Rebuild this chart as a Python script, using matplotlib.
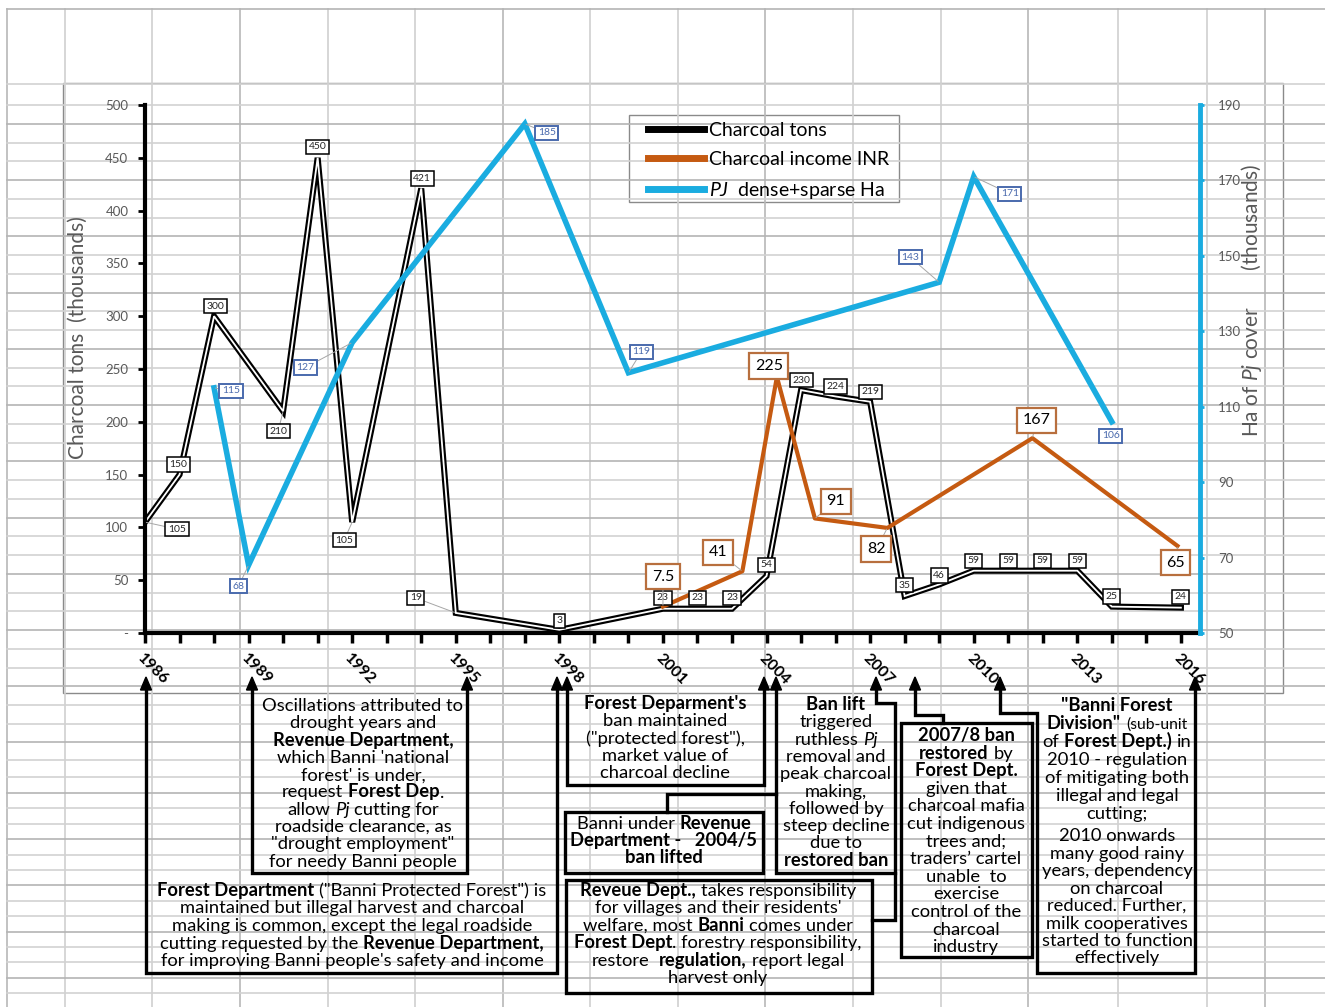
import re
import matplotlib
matplotlib.use("Agg")
import matplotlib.pyplot as plt
from matplotlib.lines import Line2D
from matplotlib.patches import Rectangle, Polygon

plt.rcParams['font.family'] = ['Lato', 'DejaVu Sans']
plt.rcParams['mathtext.fontset'] = 'custom'
plt.rcParams['mathtext.rm'] = 'Lato'
plt.rcParams['mathtext.it'] = 'Lato:italic'
plt.rcParams['mathtext.bf'] = 'Lato:bold'

W, H = 1325, 1007

# charcoal production (thousand tons)
charcoal_years = [1986, 1987, 1988, 1990, 1991, 1992, 1994, 1995, 1998, 2001, 2002, 2003,
                  2004, 2005, 2006, 2007, 2008, 2009, 2010, 2011, 2012, 2013, 2014, 2016]
charcoal_tons = [105, 150, 300, 210, 450, 105, 421, 19, 3, 23, 23, 23,
                 54, 230, 224, 219, 35, 46, 59, 59, 59, 59, 25, 24]

# charcoal income (INR), plotted on its own hidden scale
income_years = [2001, 2003.3, 2004.3, 2005.4, 2007.5, 2011.7, 2015.9]
income_inr = [7.5, 41, 225, 91, 82, 167, 65]

# Prosopis juliflora cover (thousand ha)
pj_years = [1988, 1989, 1992, 1997, 2000, 2009, 2010, 2014]
pj_ha = [115, 68, 127, 185, 119, 143, 171, 106]

year_ticks = list(range(1986, 2017))
year_labels = [str(y) if (y - 1986) % 3 == 0 else '' for y in year_ticks]

# data label offsets (pixels)
charcoal_off = [(32, -7), (-1, 10), (1, 10), (-5, -20), (0, 11), (-8, -18), (1, 10), (-40, 15),
                (0, 9), (0, 11), (0, 11), (0, 11), (0, 11), (0, 10), (0, 10), (0, 10), (0, 11),
                (0, 9), (0, 10), (0, 10), (0, 10), (0, 10), (0, 10), (0, 11)]
income_off = [(0, 30), (-24, 19), (-8, 11), (21, 17), (-11, -21), (4, 18), (-2, -17)]
pj_off = [(17, -3), (-10, -21), (-47, -25), (22, -9), (13, 21), (-29, 25), (36, -17), (-1, -14)]

BLUE = '#1AACE0'
ORANGE = '#C55A11'
GREY = '#595959'

fig = plt.figure(figsize=(W / 100, H / 100), dpi=100)
fig.patch.set_facecolor('white')

# spreadsheet background
bg = fig.add_axes([0, 0, 1, 1], zorder=-10)
bg.set_xlim(0, W)
bg.set_ylim(H, 0)
bg.axis('off')
cols = [7, 65, 152, 240, 328, 415, 503, 590, 678, 765, 853, 941, 1028, 1118, 1207, 1265]
rows = [9, 84] + [105 + 18.75 * k for k in range(34)] + [742, 760, 777] + [793 + 15.4 * k for k in range(15)]
for i, x in enumerate(cols):
    bg.plot([x, x], [9, H], color='#cfcfcf' if i % 3 else '#b8b8b8', lw=1.2)
for i, y in enumerate(rows):
    bg.plot([7, W], [y, y], color='#d2d2d2' if i % 3 else '#b4b4b4', lw=1.2)
bg.add_patch(Rectangle((63, 83), 1220, 610, fill=False, ec='#8a8a8a', lw=1))
bg.add_patch(Rectangle((629, 115), 270, 87, fill=False, ec='#8a8a8a', lw=1))

# main axes
ax = fig.add_axes([145 / W, (H - 633) / H, 1055 / W, 528 / H])
ax.patch.set_visible(False)
ax.set_xlim(1986, 1986 + 1055 / 34.53)
ax.set_ylim(0, 500)
ax.plot(charcoal_years, charcoal_tons, color='black', lw=4.4, solid_joinstyle='miter')
ax.plot(charcoal_years, charcoal_tons, color='white', lw=1.3, solid_joinstyle='miter')
for s in ['top', 'right']:
    ax.spines[s].set_visible(False)
for s in ['left', 'bottom']:
    ax.spines[s].set_linewidth(3)
ax.set_xticks(year_ticks)
ax.set_xticklabels(year_labels, rotation=-45, ha='left', va='top', rotation_mode='anchor',
                   fontweight='bold', fontsize=11.5)
ax.tick_params(axis='x', length=7, width=2.5, pad=6)
yt = list(range(0, 501, 50))
ax.set_yticks(yt)
ax.set_yticklabels(['-'] + [str(v) for v in yt[1:]], color=GREY, fontsize=9.5)
ax.tick_params(axis='y', length=5, width=2, pad=7)

ax2 = ax.twinx()
ax2.set_ylim(50, 190)
ax2.plot(pj_years, pj_ha, color=BLUE, lw=4, solid_joinstyle='miter')
for s in ['top', 'left', 'bottom']:
    ax2.spines[s].set_visible(False)
ax2.spines['right'].set_color(BLUE)
ax2.spines['right'].set_linewidth(3.5)
ax2.set_yticks(list(range(50, 191, 20)))
ax2.tick_params(axis='y', colors=BLUE, labelcolor=GREY, labelsize=9.5, length=3, width=2, pad=10)

ax3 = ax.twinx()
ax3.set_ylim(-17.5, 482.5)
ax3.plot(income_years, income_inr, color=ORANGE, lw=3)
ax3.axis('off')


def label(src, txt, x, y, off, **style):
    dist = (off[0] ** 2 + off[1] ** 2) ** 0.5
    ap = dict(arrowstyle='-', color='#a6a6a6', lw=0.7, shrinkA=0, shrinkB=1) if dist > 16 else None
    ax3.annotate(txt, xy=(x, y), xycoords=src.transData, xytext=off, textcoords='offset pixels',
                 ha='center', va='center', arrowprops=ap, annotation_clip=False, **style)


for x, v, o in zip(charcoal_years, charcoal_tons, charcoal_off):
    label(ax, str(v), x, v, o, fontsize=7.5, color='#262626',
          bbox=dict(boxstyle='square,pad=0.25', fc='white', ec='black', lw=1.1))
for x, v, o in zip(pj_years, pj_ha, pj_off):
    label(ax2, str(v), x, v, o, fontsize=7.5, color='#4a6aad',
          bbox=dict(boxstyle='square,pad=0.25', fc='white', ec='#4a6aad', lw=1.4))
for x, v, o in zip(income_years, income_inr, income_off):
    label(ax3, f"{v:g}", x, v, o, fontsize=11.5, color='black',
          bbox=dict(boxstyle='square,pad=0.35', fc='white', ec='#b86f3e', lw=1.6))

handles = [Line2D([], [], color='black', lw=5), Line2D([], [], color=ORANGE, lw=5),
           Line2D([], [], color=BLUE, lw=5)]
leg = fig.legend(handles, ['Charcoal tons', 'Charcoal income INR', r'$\mathit{PJ}$  dense+sparse Ha'],
                 loc='upper left', bbox_to_anchor=(644 / W, 1 - 118 / H), fontsize=14,
                 handlelength=2.9, handletextpad=0.25, labelspacing=0.62, borderpad=0.2,
                 frameon=False, borderaxespad=0)

fig.text(78 / W, 1 - 338 / H, 'Charcoal tons  (thousands)', rotation=90, ha='center', va='center',
         fontsize=15, color=GREY)
fig.text(1252 / W, 1 - 300 / H, 'Ha of $\\mathit{Pj}$ cover       (thousands)', rotation=90,
         ha='center', va='center', fontsize=15, color=GREY)

# annotation overlay in pixel coordinates
ov = fig.add_axes([0, 0, 1, 1], zorder=5)
ov.set_xlim(0, W)
ov.set_ylim(H, 0)
ov.axis('off')

paths = [
    [(146, 688), (146, 973), (557, 973), (557, 688)],
    [(252, 688), (252, 873), (467, 873), (467, 688)],
    [(567, 688), (567, 785), (764, 785), (764, 688)],
    [(667, 812), (667, 794), (776, 794)],
    [(776, 688), (776, 873), (895, 873)],
    [(876, 688), (876, 703), (895, 703), (895, 920), (872, 920)],
    [(943, 723), (943, 715), (915, 715), (915, 688)],
    [(1000, 688), (1000, 713), (1037, 713), (1037, 973), (1195, 973), (1195, 688)],
]
for p in paths:
    ov.plot([q[0] for q in p], [q[1] for q in p], color='black', lw=2.4,
            solid_joinstyle='miter', solid_capstyle='projecting')
for x in [146, 557, 252, 467, 567, 764, 776, 876, 915, 1000, 1195]:
    ov.add_patch(Polygon([[x - 5.5, 690], [x + 5.5, 690], [x, 677]], closed=True, color='black'))
for x0, y0, x1, y1 in [(565, 812, 763, 873), (566, 880, 872, 993), (901, 723, 1032, 957)]:
    ov.add_patch(Rectangle((x0, y0), x1 - x0, y1 - y0, fill=False, ec='black', lw=2.4))

renderer = fig.canvas.get_renderer()
FS = 13.2
STY = {'n': dict(fontsize=FS), 'b': dict(fontsize=FS, fontweight='bold'),
       'i': dict(fontsize=FS, fontstyle='italic'), 's': dict(fontsize=FS * 0.85)}


def measure(s, st):
    t = ov.text(0, 0, s, **STY[st])
    w = t.get_window_extent(renderer=renderer).width
    t.remove()
    return w


SPACE = {k: measure('a a', k) - measure('aa', k) for k in STY}


def parse(line):
    segs = []
    for part in re.split(r'(\*\*.*?\*\*|__.*?__|\^\^.*?\^\^)', line):
        if not part:
            continue
        if part.startswith('**'):
            segs.append((part[2:-2], 'b'))
        elif part.startswith('__'):
            segs.append((part[2:-2], 'i'))
        elif part.startswith('^^'):
            segs.append((part[2:-2], 's'))
        else:
            segs.append((part, 'n'))
    return segs


def rich(cx, cy, line):
    parts = []
    total = 0
    for s, st in parse(line):
        core = s.strip(' ')
        lead = len(s) - len(s.lstrip(' '))
        trail = len(s) - len(s.rstrip(' ')) if core else 0
        w = measure(core, st) if core else 0
        parts.append((core, st, lead * SPACE[st], w, trail * SPACE[st]))
        total += lead * SPACE[st] + w + trail * SPACE[st]
    x = cx - total / 2
    for core, st, lw_, w, tw in parts:
        x += lw_
        if core:
            ov.text(x, cy + 6, core, ha='left', va='baseline', **STY[st])
        x += w + tw


def block(cx, ys, lines):
    for y, line in zip(ys, lines):
        rich(cx, y, line)


def even(y0, dy, n):
    return [y0 + dy * i for i in range(n)]


block(352, even(890, 17.5, 5), [
    '**Forest Department** ("Banni Protected Forest") is',
    'maintained but illegal harvest and charcoal',
    'making is common, except the legal roadside',
    'cutting requested by the **Revenue Department,**',
    "for improving Banni people's safety and income"])
block(363, even(705, 17.3, 10), [
    'Oscillations attributed to', 'drought years and', '**Revenue Department,**',
    "which Banni 'national", "forest' is under,", 'request **Forest Dep**.',
    'allow __Pj__ cutting for', 'roadside clearance, as', '"drought employment"',
    'for needy Banni people'])
block(665, even(703, 17.3, 5), [
    "**Forest Deparment's**", 'ban maintained', '("protected forest"),',
    'market value of', 'charcoal decline'])
block(664, even(823, 17, 3), [
    'Banni under **Revenue**', '**Department -   2004/5**', '**ban lifted**'])
block(836, even(704, 17.3, 10), [
    '**Ban lift**', 'triggered', 'ruthless __Pj__', 'removal and', 'peak charcoal',
    'making,', 'followed by', 'steep decline', 'due to', '**restored ban**'])
block(718, even(890, 17.4, 6), [
    '**Reveue Dept.,** takes responsibility', "for villages and their residents'",
    'welfare, most **Banni** comes under', '**Forest Dept**. forestry responsibility,',
    'restore  **regulation,** report legal', 'harvest only'])
block(966, even(735, 17.6, 13), [
    '**2007/8 ban**', '**restored** by', '**Forest Dept.**', 'given that', 'charcoal mafia',
    'cut indigenous', 'trees and;', 'traders\u2019 cartel', 'unable  to', 'exercise',
    'control of the', 'charcoal', 'industry'])
block(1117, even(705, 18.0, 7) + even(835, 17.5, 8), [
    '**"Banni Forest**', '**Division"** ^^(sub-unit^^', 'of **Forest Dept.)** in',
    '2010 - regulation', 'of mitigating both', 'illegal and legal', 'cutting;',
    '2010 onwards', 'many good rainy', 'years, dependency', 'on charcoal',
    'reduced. Further,', 'milk cooperatives', 'started to function', 'effectively'])

fig.savefig('out.png', dpi=100)
